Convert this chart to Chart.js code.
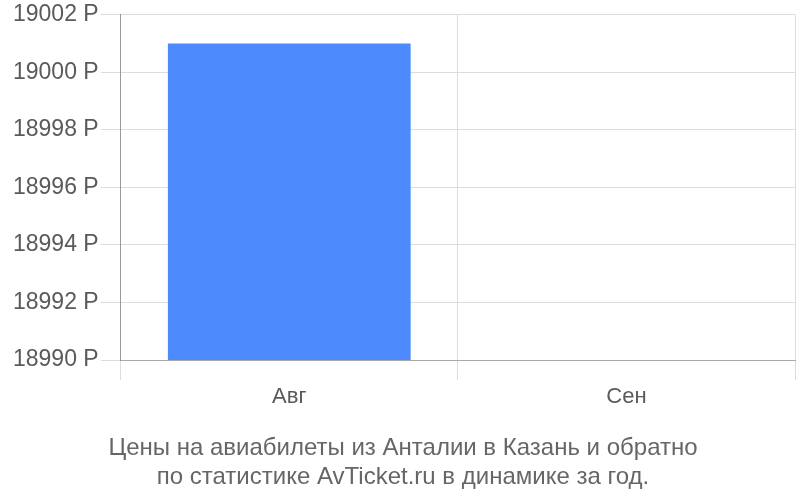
<!DOCTYPE html>
<html>
<head>
<meta charset="utf-8">
<script src="https://cdn.jsdelivr.net/npm/chart.js@4"></script>
<style>
    html, body { margin: 0; padding: 0; background: #fff; }
    #wrap { width: 800px; height: 500px; }
</style>
</head>
<body>
<div id="wrap"><canvas id="priceChart" width="800" height="500"></canvas></div>
<script>
const months = ['Авг', 'Сен'];
const prices = [19001, null];
const titleLines = ['Цены на авиабилеты из Анталии в Казань и обратно', 'по статистике AvTicket.ru в динамике за год.'];

const FONT = 'Liberation Sans, Arial, sans-serif';
const ctx = document.getElementById('priceChart').getContext('2d');

new Chart(ctx, {
    type: 'bar',
    data: {
        labels: months,
        datasets: [{
            data: prices,
            backgroundColor: '#4d8afd',
            borderWidth: 0
        }]
    },
    options: {
        responsive: false,
        animation: false,
        layout: { padding: { top: 0, right: 5, left: 11, bottom: 8 } },
        plugins: {
            legend: { display: false },
            tooltip: { enabled: false },
            title: {
                display: true,
                position: 'bottom',
                text: titleLines,
                color: '#666',
                font: { family: FONT, size: 24, weight: 'normal' },
                lineHeight: 1.15,
                padding: { top: 20, bottom: 0 }
            }
        },
        scales: {
            x: {
                grid: { color: '#dddddd', tickLength: 20, offset: true },
                border: { color: '#aaaaaa' },
                ticks: { color: '#5a5a5a', padding: 4, font: { family: FONT, size: 22 } }
            },
            y: {
                min: 18990,
                max: 19002,
                grid: { color: '#dddddd', tickLength: 20 },
                border: { color: '#999999' },
                ticks: {
                    stepSize: 2,
                    color: '#5a5a5a',
                    padding: 2,
                    font: { family: FONT, size: 23, lineHeight: 1.1 },
                    callback: v => v + ' Р'
                }
            }
        }
    }
});
</script>
</body>
</html>
